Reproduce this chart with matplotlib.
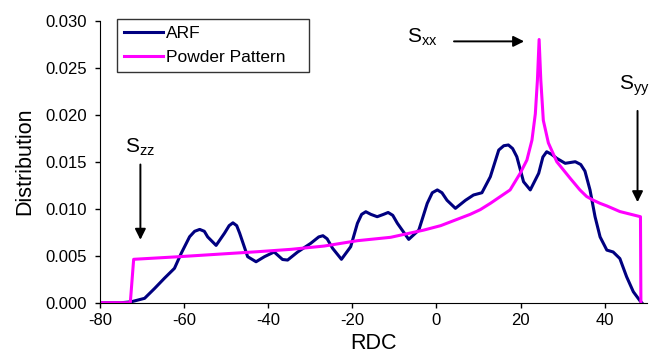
import matplotlib.pyplot as plt

plt.rcParams['font.family'] = ['Liberation Sans', 'DejaVu Sans']
plt.rcParams['axes.unicode_minus'] = False
plt.rcParams['mathtext.default'] = 'regular'

# ARF curve, values
arf_x = [-80, -75, -72.6, -69.4, -67.0, -64.7, -62.3, -60.7, -58.7, -57.5, -56.3, -55.2, -54.4,
         -52.4, -50.4, -49.3, -48.4, -47.5, -46.8, -44.9, -42.9, -40.9, -38.6, -36.6, -35.4,
         -33.0, -29.9, -28.0, -27.0, -26.0, -24.7, -22.6, -20.4, -18.8, -17.8, -16.8, -15.6,
         -14.1, -12.6, -11.5, -10.4, -9.3, -6.6, -4.2, -2.2, -1.0, 0.2, 1.3, 2.5, 4.5, 6.9,
         8.8, 10.8, 12.8, 14.8, 16.0, 17.1, 18.1, 19.1, 20.7, 22.3, 24.3, 25.3, 26.2, 27.3,
         28.6, 30.6, 33.0, 34.3, 35.3, 36.5, 37.7, 38.9, 40.5, 42.0, 43.6, 45.2, 46.8, 48.4, 48.8]
arf_y = [0.0, 0.0, 0.0001, 0.00047, 0.00153, 0.0026, 0.00366, 0.00525, 0.00702, 0.0076, 0.0078, 0.0076, 0.0070,
         0.0061, 0.0074, 0.0082, 0.0085, 0.0082, 0.0074, 0.0049, 0.00436, 0.0049, 0.0054, 0.0046, 0.00454,
         0.0054, 0.00632, 0.0070, 0.00713, 0.0068, 0.00579, 0.00462, 0.00596, 0.00845, 0.0094, 0.00968, 0.0094,
         0.00915, 0.0094, 0.0096, 0.0093, 0.00845, 0.00674, 0.00773, 0.01057, 0.0117, 0.0120, 0.0117, 0.0109, 0.01004, 0.0109,
         0.01146, 0.0117, 0.0134, 0.01624, 0.0167, 0.01678, 0.0164, 0.01553, 0.01287, 0.0120, 0.01377, 0.0155, 0.01606, 0.0158,
         0.01536, 0.01483, 0.0150, 0.0147, 0.0140, 0.0120, 0.00915, 0.0070, 0.0056, 0.0054, 0.0047, 0.00277, 0.00117, 0.0002, 0.0]

# Powder pattern curve
pp_x = [-80, -72.8, -72.0, -61.5, -42.5, -34.6, -26.7, -18.8, -10.9, -3.0, 1.0, 4.9, 8.0, 10.4, 12.8, 15.2,
        17.5, 19.9, 21.5, 22.7, 23.5, 24.0, 24.4, 24.8, 25.4, 26.6, 28.6, 31.8, 34.1, 35.7, 37.3,
        38.9, 40.5, 43.6, 48.5, 48.6]
pp_y = [0.0, 0.0, 0.00462, 0.00489, 0.00543, 0.00568, 0.00603, 0.0066, 0.00696, 0.00773, 0.0082, 0.00887, 0.0094, 0.0099, 0.01057, 0.0113,
        0.0120, 0.01377, 0.01518, 0.0173, 0.0201, 0.0237, 0.0280, 0.0237, 0.0194, 0.0170, 0.0150, 0.01323, 0.01200, 0.0113, 0.0109,
        0.01057, 0.0103, 0.0097, 0.00915, 0.0]

x_ticks = [-80, -60, -40, -20, 0, 20, 40]
y_ticks = [0.000, 0.005, 0.010, 0.015, 0.020, 0.025, 0.030]

fig = plt.figure(figsize=(6.52, 3.63), dpi=100)
ax = fig.add_axes([0.1534, 0.166, 0.8386, 0.777])

ax.plot(arf_x, arf_y, color='#000080', lw=2.2, label='ARF', solid_joinstyle='round')
ax.plot(pp_x, pp_y, color='#FF00FF', lw=2.2, label='Powder Pattern', solid_joinstyle='round')

ax.set_xlim(-80, 50)
ax.set_ylim(0, 0.030)
ax.set_xticks(x_ticks)
ax.set_yticks(y_ticks)
ax.set_yticklabels(['%.3f' % v for v in y_ticks])
ax.tick_params(direction='out', length=3.6, width=1, labelsize=12)
ax.tick_params(axis='y', pad=6)
for s in ['top', 'right']:
    ax.spines[s].set_visible(False)
ax.set_xlabel('RDC', fontsize=15.5)
ax.set_ylabel('Distribution', fontsize=15.5)
ax.yaxis.set_label_coords(-0.118, 0.5)

arrow = dict(arrowstyle='-|>', color='black', lw=1.4, mutation_scale=16)
ax.annotate('', xy=(-70.4, 0.0064), xytext=(-70.4, 0.0150), arrowprops=arrow)
ax.annotate('', xy=(21.5, 0.0278), xytext=(3.5, 0.0278), arrowprops=arrow)
ax.annotate('', xy=(47.8, 0.0104), xytext=(47.8, 0.0207), arrowprops=arrow)
ax.text(-74.0, 0.0160, r'S$_{zz}$', fontsize=15, va='baseline')
ax.text(-7.0, 0.0277, r'S$_{xx}$', fontsize=15, va='baseline')
ax.text(43.5, 0.0227, r'S$_{yy}$', fontsize=15, va='baseline')

leg = ax.legend(loc='upper left', bbox_to_anchor=(0.0305, 0.5, 0.3517, 0.506), mode='expand',
                fontsize=12.5, frameon=True, fancybox=False, edgecolor='black',
                handlelength=2.25, borderpad=0.4, labelspacing=0.5, handletextpad=0.2,
                borderaxespad=0)
leg.get_frame().set_linewidth(1.0)

fig.savefig('out.png', dpi=100)
